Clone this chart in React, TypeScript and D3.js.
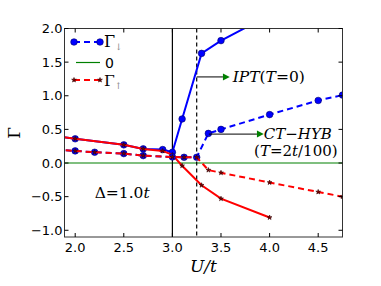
import React from "react";
import * as d3 from "d3";

const uIPT = [1.8, 2.0, 2.5, 2.7, 2.9, 3.0, 3.1, 3.3, 3.5, 4.0];
const gammaDownIPT = [0.4, 0.36, 0.27, 0.21, 0.2, 0.16, 0.655, 1.63, 1.82, 2.2];
const gammaUpIPT = [0.4, 0.36, 0.27, 0.21, 0.18, 0.12, -0.04, -0.33, -0.53, -0.81];

const uCT = [1.8, 2.0, 2.2, 2.5, 2.7, 3.0, 3.12, 3.25, 3.37, 3.5, 4.0, 4.5, 4.75];
const gammaDownCT = [0.2, 0.18, 0.16, 0.14, 0.11, 0.09, 0.085, 0.085, 0.44, 0.5, 0.72, 0.93, 1.01];
const gammaUpCT = [0.2, 0.18, 0.16, 0.14, 0.11, 0.09, 0.085, 0.085, -0.105, -0.145, -0.29, -0.43, -0.5];

const xTicks = [2.0, 2.5, 3.0, 3.5, 4.0, 4.5];
const yTicks = [-1.0, -0.5, 0.0, 0.5, 1.0, 1.5, 2.0];

const W = 381;
const H = 286;
const L = 64.5, R = 342.5, T = 28.5, B = 237;

const x = d3.scaleLinear().domain([1.89, 4.75]).range([L, R]);
const y = d3.scaleLinear().domain([-1.1, 2.0]).range([B, T]);

const fmt = (v: number) => (v < 0 ? "\u2212" : "") + Math.abs(v).toFixed(1);

type P = [number, number];
const zip = (us: number[], gs: number[]): P[] => us.map((u, i) => [u, gs[i]]);
const line = d3.line<P>().x((d) => x(d[0])).y((d) => y(d[1]));
const star = d3.symbol().type(d3.symbolStar).size(7)() as string;

const BLUE = "#0000ff";
const RED = "#ff0000";
const GREEN = "#008000";

function Dots({ pts }: { pts: P[] }) {
  return (
    <g>
      {pts.map((p, i) => (
        <circle key={i} cx={x(p[0])} cy={y(p[1])} r={3.3} fill={BLUE} stroke="#00006a" strokeWidth={0.6} />
      ))}
    </g>
  );
}
function Stars({ pts }: { pts: P[] }) {
  return (
    <g>
      {pts.map((p, i) => (
        <path key={i} d={star} transform={`translate(${x(p[0])},${y(p[1])})`} fill="#700" stroke="#300" strokeWidth={0.6} />
      ))}
    </g>
  );
}

export default function App() {
  const dIPT = zip(uIPT, gammaDownIPT);
  const upIPT = zip(uIPT, gammaUpIPT);
  const dCT = zip(uCT, gammaDownCT);
  const upCT = zip(uCT, gammaUpCT);
  const math = { fontFamily: "'DejaVu Serif', serif", fontStyle: "italic" as const };
  const arrow1y = y(1.28);
  const arrow2y = y(0.43);
  return (
    <svg width={W} height={H} style={{ position: "absolute", left: 0, top: 0, background: "#fff" }} fontFamily="'DejaVu Sans', sans-serif">
      <defs>
        <clipPath id="plot">
          <rect x={L} y={T} width={R - L} height={B - T} />
        </clipPath>
      </defs>
      <g clipPath="url(#plot)">
        <line x1={L} x2={R} y1={y(0)} y2={y(0)} stroke={GREEN} strokeWidth={1.2} />
        <line x1={x(3.0)} x2={x(3.0)} y1={T} y2={B} stroke="#000" strokeWidth={1.2} />
        <line x1={x(3.25)} x2={x(3.25)} y1={T} y2={B} stroke="#000" strokeWidth={1.2} strokeDasharray="4,3" />
        <path d={line(dIPT) as string} fill="none" stroke={BLUE} strokeWidth={2} />
        <Dots pts={dIPT} />
        <path d={line(upIPT) as string} fill="none" stroke={RED} strokeWidth={2} />
        <Stars pts={upIPT} />
        <path d={line(dCT) as string} fill="none" stroke={BLUE} strokeWidth={2} strokeDasharray="6,4" />
        <Dots pts={dCT} />
        <path d={line(upCT) as string} fill="none" stroke={RED} strokeWidth={2} strokeDasharray="6,4" />
        <Stars pts={upCT} />
      </g>
      {/* annotations */}
      <line x1={x(3.25)} x2={x(3.52)} y1={arrow1y} y2={arrow1y} stroke="#000" strokeWidth={1} />
      <path d={`M${x(3.52)},${arrow1y - 3.5}L${x(3.59)},${arrow1y}L${x(3.52)},${arrow1y + 3.5}Z`} fill={GREEN} />
      <text x={x(3.62)} y={arrow1y + 5} fontSize={15.5} {...math}>
        IPT<tspan fontStyle="normal">(</tspan>T<tspan fontStyle="normal">=0)</tspan>
      </text>
      <line x1={x(3.375)} x2={x(3.87)} y1={arrow2y} y2={arrow2y} stroke="#000" strokeWidth={1} />
      <path d={`M${x(3.87)},${arrow2y - 3.5}L${x(3.94)},${arrow2y}L${x(3.87)},${arrow2y + 3.5}Z`} fill={GREEN} />
      <text x={x(3.94)} y={arrow2y + 4.5} fontSize={15} {...math}>
        CT<tspan fontStyle="normal">{"\u2212"}</tspan>HYB
      </text>
      <text x={x(3.84)} y={y(0.19) + 5.5} fontSize={15} {...math}>
        <tspan fontStyle="normal">(</tspan>T<tspan fontStyle="normal">=2</tspan>t<tspan fontStyle="normal">/100)</tspan>
      </text>
      <text x={x(2.2)} y={y(-0.45) + 5} fontSize={15.5} {...math}>
        <tspan fontStyle="normal">{"\u0394=1.0"}</tspan>t
      </text>
      {/* frame */}
      <rect x={L} y={T} width={R - L} height={B - T} fill="none" stroke="#333" strokeWidth={1} />
      {xTicks.map((t) => (
        <g key={"x" + t}>
          <line x1={x(t)} x2={x(t)} y1={B} y2={B - 4} stroke="#000" />
          <line x1={x(t)} x2={x(t)} y1={T} y2={T + 4} stroke="#000" />
          <text x={x(t)} y={B + 15} textAnchor="middle" fontSize={13}>{fmt(t)}</text>
        </g>
      ))}
      {yTicks.map((t) => (
        <g key={"y" + t}>
          <line x1={L} x2={L + 4} y1={y(t)} y2={y(t)} stroke="#000" />
          <line x1={R} x2={R - 4} y1={y(t)} y2={y(t)} stroke="#000" />
          <text x={L - 2} y={y(t) + 4.5} textAnchor="end" fontSize={13}>{fmt(t)}</text>
        </g>
      ))}
      <text x={(L + R) / 2} y={272} textAnchor="middle" fontSize={17} {...math}>U/t</text>
      <text transform={`translate(20,${(T + B) / 2}) rotate(-90)`} textAnchor="middle" fontSize={17} fontFamily="'DejaVu Serif', serif">{"\u0393"}</text>
      {/* legend */}
      <g>
        <line x1={74} x2={100} y1={42} y2={42} stroke={BLUE} strokeWidth={2} strokeDasharray="6,4" />
        <circle cx={74} cy={42} r={3.3} fill={BLUE} stroke="#00006a" strokeWidth={0.6} />
        <circle cx={100} cy={42} r={3.3} fill={BLUE} stroke="#00006a" strokeWidth={0.6} />
        <text x={104} y={47} fontSize={16} fontFamily="'DejaVu Serif', serif">
          {"\u0393"}<tspan dy={3} fontSize={9} fill="#888">{"\u2193"}</tspan>
        </text>
        <line x1={76} x2={100} y1={62.5} y2={62.5} stroke={GREEN} strokeWidth={1.2} />
        <text x={105} y={67.5} fontSize={14}>0</text>
        <line x1={74} x2={100} y1={80} y2={80} stroke={RED} strokeWidth={2} strokeDasharray="6,4" />
        <path d={star} transform="translate(74,80)" fill="#700" stroke="#300" strokeWidth={0.6} />
        <path d={star} transform="translate(100,80)" fill="#700" stroke="#300" strokeWidth={0.6} />
        <text x={104} y={85.5} fontSize={15.5} fontFamily="'DejaVu Serif', serif">
          {"\u0393"}<tspan dy={3} fontSize={9} fill="#888">{"\u2191"}</tspan>
        </text>
      </g>
    </svg>
  );
}
